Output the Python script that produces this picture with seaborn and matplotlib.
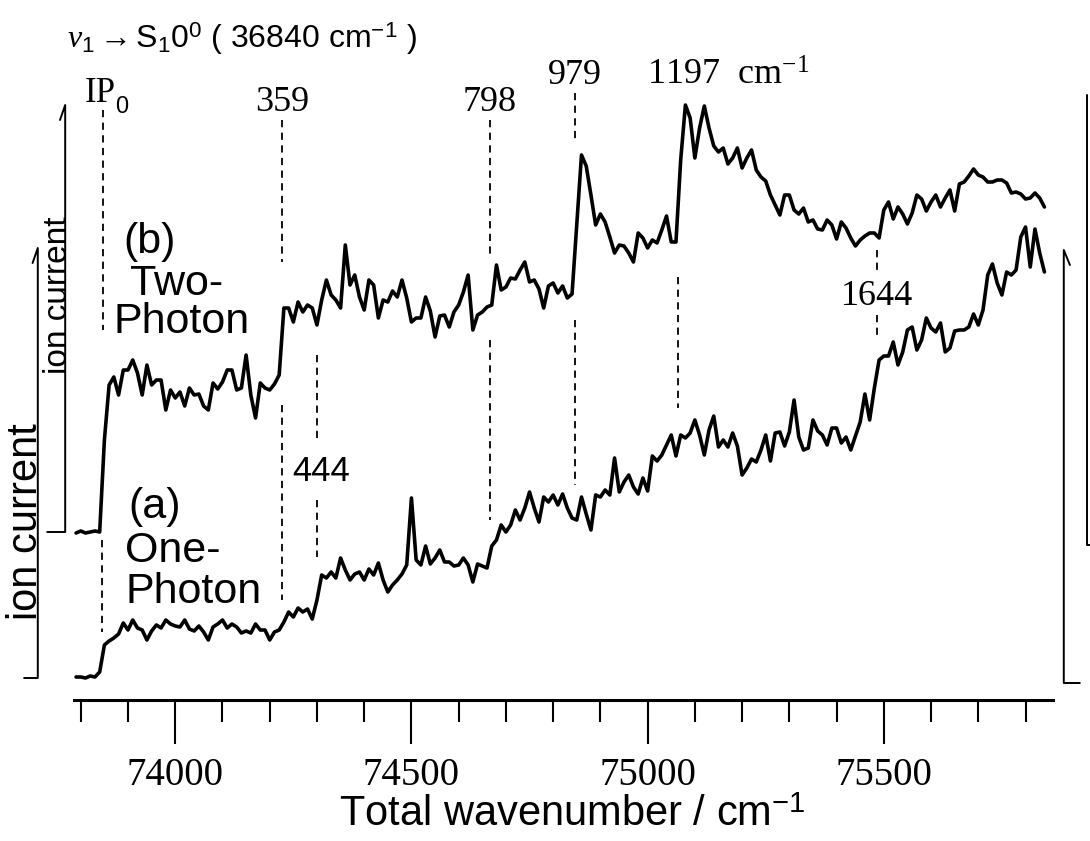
import numpy as np
import pandas as pd
import seaborn as sns
import matplotlib.pyplot as plt

# total wavenumber grid (cm-1), one reading every 10 cm-1
wavenumber = np.arange(73790, 75841, 10)

# (a) one-photon ion current, arbitrary units above its own zero
one_photon = [
    0, 0, -1, 1, 0, 5, 32, 36, 39, 43,
    54, 47, 57, 49, 47, 37, 46, 52, 49, 57,
    53, 51, 50, 57, 48, 46, 51, 45, 37, 50,
    53, 57, 49, 53, 50, 44, 46, 44, 53, 47,
    47, 37, 45, 47, 55, 65, 60, 69, 65, 68,
    58, 77, 102, 99, 105, 99, 119, 107, 97, 103,
    105, 97, 108, 102, 114, 97, 85, 92, 97, 103,
    112, 179, 117, 112, 131, 113, 119, 127, 115, 115,
    111, 112, 119, 112, 95, 113, 111, 109, 131, 137,
    152, 145, 152, 167, 157, 169, 185, 169, 155, 180,
    175, 182, 172, 183, 169, 159, 157, 180, 163, 147,
    182, 180, 187, 182, 219, 185, 195, 202, 190, 183,
    199, 186, 221, 216, 222, 232, 242, 221, 242, 239,
    244, 257, 242, 222, 247, 261, 230, 237, 230, 244,
    231, 202, 209, 218, 215, 227, 242, 216, 244, 245,
    231, 245, 277, 240, 227, 229, 257, 246, 242, 232,
    249, 249, 234, 240, 227, 241, 255, 283, 257, 289,
    317, 321, 321, 335, 312, 325, 347, 350, 327, 337,
    359, 349, 345, 354, 325, 329, 346, 347, 347, 350,
    363, 352, 367, 402, 413, 394, 382, 405, 402, 407,
    440, 450, 410, 448, 424, 405,
]

# (b) two-photon ion current, arbitrary units above its own zero
two_photon = [
    -1, 1, -1, 0, 1, 0, 92, 147, 155, 137,
    162, 162, 172, 159, 137, 167, 147, 152, 152, 122,
    142, 134, 140, 126, 144, 137, 138, 126, 122, 149,
    143, 150, 162, 162, 142, 144, 177, 137, 114, 149,
    144, 142, 148, 157, 224, 224, 210, 230, 220, 227,
    224, 207, 232, 252, 237, 232, 224, 287, 247, 257,
    235, 222, 252, 247, 214, 232, 230, 241, 235, 252,
    234, 210, 214, 214, 235, 221, 195, 216, 217, 205,
    220, 227, 240, 257, 202, 217, 220, 225, 227, 267,
    242, 245, 254, 253, 262, 270, 250, 252, 243, 224,
    246, 249, 239, 246, 234, 238, 307, 377, 366, 337,
    307, 318, 310, 295, 279, 287, 286, 279, 270, 299,
    294, 284, 292, 289, 302, 316, 290, 290, 372, 427,
    414, 374, 404, 426, 404, 386, 380, 384, 368, 374,
    384, 364, 374, 382, 362, 355, 351, 337, 327, 317,
    337, 337, 322, 318, 324, 310, 312, 303, 302, 312,
    307, 293, 310, 304, 294, 286, 292, 296, 299, 299,
    294, 322, 330, 313, 325, 318, 308, 319, 337, 333,
    321, 330, 337, 325, 334, 342, 321, 348, 350, 356,
    363, 357, 355, 350, 350, 352, 352, 349, 339, 340,
    338, 333, 334, 339, 334, 325,
]
two_photon_offset = 145

# threshold and vibrational onsets, as placed on the plot
ip0_wn = 73848
marker_labels = ["359", "444", "798", "979", "1197", "1644"]
marker_wn = [74226, 74300, 74666, 74846, 75064, 75485]

df = pd.DataFrame({
    "wavenumber": wavenumber,
    "one": one_photon,
    "two": np.array(two_photon) + two_photon_offset,
})

sns.set_theme(style="white")
plt.rcParams["font.family"] = ["Liberation Sans", "DejaVu Sans"]
plt.rcParams["text.color"] = "black"
plt.rcParams["xtick.color"] = "black"
plt.rcParams["mathtext.fontset"] = "custom"
plt.rcParams["mathtext.rm"] = "Liberation Sans"
plt.rcParams["mathtext.it"] = "Liberation Serif:italic"

fig = plt.figure(figsize=(10.9, 8.41), dpi=100)
ax = fig.add_axes([0, 0, 1, 1])
ax.patch.set_visible(False)
ax.set_xlim(73629, 75936.5)
ax.set_ylim(-164, 677)

sns.lineplot(data=df, x="wavenumber", y="one", ax=ax, color="black", lw=2.6)
sns.lineplot(data=df, x="wavenumber", y="two", ax=ax, color="black", lw=2.6)

# bottom axis
for s in ["left", "right", "top"]:
    ax.spines[s].set_visible(False)
ax.spines["bottom"].set_position(("data", -23))
ax.spines["bottom"].set_bounds(73786, 75858)
ax.spines["bottom"].set_linewidth(2.2)
ax.spines["bottom"].set_color("black")
ax.set_xticks([74000, 74500, 75000, 75500])
ax.set_xticks(np.arange(73800, 75801, 100), minor=True)
ax.set_xticklabels(["74000", "74500", "75000", "75500"],
                   family="Liberation Serif", fontsize=28, color="black")
ax.tick_params(axis="x", which="major", direction="out", length=32, width=1.5,
               pad=9, color="black", bottom=True)
ax.tick_params(axis="x", which="minor", direction="out", length=16, width=1.5,
               color="black", bottom=True)
ax.set_yticks([])
ax.set_xlabel("")
ax.set_ylabel("")
ax.text(74840, -138, "Total wavenumber / cm$^{\\mathregular{-1}}$",
        fontsize=30, ha="center", va="center")

# title
ax.text(73770, 638,
        "$\\nu_1$$\\rightarrow$S$_{\\mathregular{1}}$0$^{\\mathregular{0}}$"
        " ( 36840 cm$^{\\mathregular{-1}}$ )",
        fontsize=23, ha="left", va="center")

# dashed guides
dash = dict(color="black", lw=1.3, ls=(0, (4, 3)))
ax.plot([ip0_wn, ip0_wn], [567, 347], **dash)
ax.plot([ip0_wn - 4, ip0_wn - 4], [137, 45], **dash)
guides = {
    "359": [(557, 415), (272, 77)],
    "444": [(322, 237), (177, 120)],
    "798": [(557, 419), (337, 157)],
    "979": [(584, 534), (357, 192)],
    "1197": [(400, 269)],
    "1644": [(427, 402), (362, 337)],
}
for lab, wn in zip(marker_labels, marker_wn):
    for y0, y1 in guides[lab]:
        ax.plot([wn, wn], [y0, y1], **dash)

serif = "Liberation Serif"
ax.text(73809, 584, "IP", family=serif, fontsize=25, ha="left", va="center")
ax.text(73872, 570, "0", fontsize=17, ha="left", va="center")
ax.text(marker_wn[0], 575, "359", family=serif, fontsize=26, ha="center", va="center")
ax.text(marker_wn[2], 575, "798", family=serif, fontsize=26, ha="center", va="center")
ax.text(marker_wn[3], 602, "979", family=serif, fontsize=26, ha="center", va="center")
ax.text(74998, 601, "1197  cm$^{\\mathregular{-1}}$", family=serif, fontsize=26,
        ha="left", va="center")
ax.text(marker_wn[5], 381, "1644", family=serif, fontsize=26, ha="center", va="center")
ax.text(marker_wn[1] + 8, 206, "444", fontsize=25, ha="center", va="center")

ax.text(73890, 435, "(b)", fontsize=31, ha="left", va="center")
ax.text(73905, 393, "Two-", fontsize=31, ha="left", va="center")
ax.text(73869, 355, "Photon", fontsize=31, ha="left", va="center")
ax.text(73900, 170, "(a)", fontsize=31, ha="left", va="center")
ax.text(73894, 126, "One-", fontsize=31, ha="left", va="center")
ax.text(73894, 85, "Photon", fontsize=31, ha="left", va="center")

# ion current brackets
ax.text(73684, 155, "ion current", fontsize=30, rotation=90, ha="center", va="center")
ax.text(73752, 382, "ion current", fontsize=24, rotation=90, ha="center", va="center")
frame = dict(color="black", lw=1.4)
ax.plot([73680, 73709, 73709, 73698], [-1, -1, 429, 414], **frame)
ax.plot([73729, 73767, 73767, 73756], [145, 145, 572, 557], **frame)
ax.plot([75915, 75881, 75881, 75894], [-6, -6, 427, 412], **frame)
ax.plot([75945, 75930, 75930], [132, 132, 582], **frame)

fig.savefig("out.png", dpi=100)
